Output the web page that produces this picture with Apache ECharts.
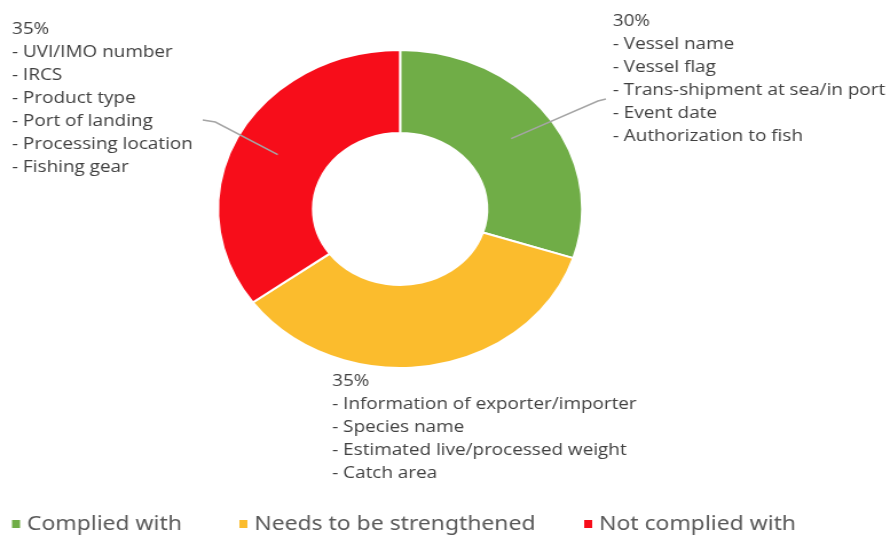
<!DOCTYPE html>
<html>
<head>
<meta charset="utf-8">
<script src="https://cdn.jsdelivr.net/npm/echarts@6/dist/echarts.min.js"></script>
<style>
html,body{margin:0;padding:0;background:#fff;overflow:hidden;width:890px;height:538px;}
#main{width:777px;height:538px;transform:scaleX(1.1454);transform-origin:0 0;}
</style>
</head>
<body>
<div id="main"></div>
<script>
const categories = ['Complied with', 'Needs to be strengthened', 'Not complied with'];
const values = [30, 35, 35];
const itemsComplied = ['Vessel name', 'Vessel flag', 'Trans-shipment at sea/in port', 'Event date', 'Authorization to fish'];
const itemsStrengthen = ['Information of exporter/importer', 'Species name', 'Estimated live/processed weight', 'Catch area'];
const itemsNotComplied = ['UVI/IMO number', 'IRCS', 'Product type', 'Port of landing', 'Processing location', 'Fishing gear'];
const itemLists = [itemsComplied, itemsStrengthen, itemsNotComplied];
const colors = ['#70AD47', '#FBBC2D', '#F70D1A'];

const labelPos = [[535, 10], [290, 370], [10.5, 18]];
const lineBends = [[[522, 101], [529, 99]], null, [[188, 122], [177, 120]]];
const center = [349.3, 209];
const rOuter = 159, rInner = 76;
const legendLefts = [8.5, 207, 508];

const pieData = categories.map((c, i) => ({ name: c, value: values[i] }));

const chart = echarts.init(document.getElementById('main'));
chart.setOption({
  animation: false,
  color: colors,
  legend: categories.map((c, i) => ({
    data: [c],
    left: legendLefts[i],
    top: 514,
    padding: 0,
    icon: 'rect',
    itemWidth: 9,
    itemHeight: 10,
    itemGap: 6,
    textStyle: { fontFamily: 'Noto Sans', fontSize: 20, color: '#595959' }
  })),
  series: [{
    type: 'pie',
    z: 2,
    center: center,
    radius: [rInner, rOuter],
    startAngle: 90,
    clockwise: true,
    itemStyle: { borderColor: '#fff', borderWidth: 2 },
    label: { show: false },
    labelLine: { show: false },
    data: pieData
  }, {
    type: 'pie',
    z: 5,
    silent: true,
    legendHoverLink: false,
    center: center,
    radius: [rInner, rOuter],
    startAngle: 90,
    clockwise: true,
    itemStyle: { color: 'rgba(0,0,0,0)', borderWidth: 0 },
    label: {
      show: true,
      position: 'outside',
      overflow: 'none',
      width: 400,
      edgeDistance: 0,
      formatter: p => [p.value + '%'].concat(itemLists[p.dataIndex].map(s => '- ' + s)).join('\n'),
      fontFamily: 'Open Sans',
      fontSize: 16.5,
      lineHeight: 23,
      color: '#404040',
      align: 'left'
    },
    labelLine: { show: true, lineStyle: { color: '#A5A5A5', width: 1.5 } },
    labelLayout: function (params) {
      const i = params.dataIndex;
      const out = { x: labelPos[i][0], y: labelPos[i][1], align: 'left', verticalAlign: 'top' };
      if (lineBends[i] && params.labelLinePoints) {
        const p0 = params.labelLinePoints[0];
        const k = (rInner + rOuter) / 2 / rOuter * 1.02;
        const s = [center[0] + (p0[0] - center[0]) * k, center[1] + (p0[1] - center[1]) * k];
        out.labelLinePoints = [s, lineBends[i][0], lineBends[i][1]];
      }
      return out;
    },
    data: pieData.map((d, i) => ({
      name: d.name,
      value: d.value,
      labelLine: { show: !!lineBends[i] }
    }))
  }]
});
</script>
</body>
</html>
